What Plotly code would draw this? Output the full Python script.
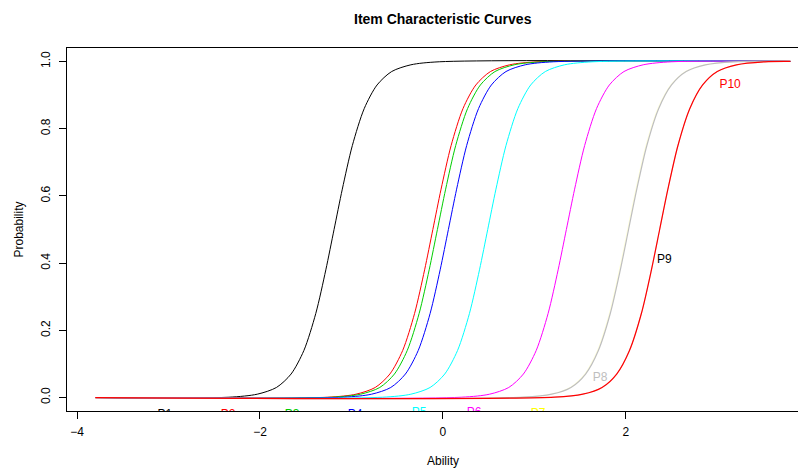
import plotly.graph_objects as go

prob_levels = [0.0, 0.001, 0.01, 0.03, 0.07, 0.14, 0.25, 0.38, 0.5,
               0.62, 0.75, 0.86, 0.93, 0.97, 0.99, 0.999, 1.0]

items = ["P1", "P2", "P3", "P4", "P5", "P6", "P7", "P8", "P9", "P10"]

# Ability values (x) where each item's curve reaches the probability levels above
ability_p1 = [-3.8, -2.34, -2.03, -1.82, -1.66, -1.52, -1.39, -1.28, -1.19, -1.10, -0.99, -0.86, -0.72, -0.56, -0.35, -0.04, 3.8]
ability_p2 = [-3.8, -1.26, -0.95, -0.74, -0.58, -0.44, -0.31, -0.20, -0.11, -0.02, 0.09, 0.22, 0.36, 0.52, 0.73, 1.04, 3.8]
ability_p3 = [-3.8, -1.21, -0.90, -0.69, -0.53, -0.39, -0.26, -0.15, -0.06, 0.03, 0.14, 0.27, 0.41, 0.57, 0.78, 1.09, 3.8]
ability_p4 = [-3.8, -1.09, -0.78, -0.57, -0.41, -0.27, -0.14, -0.03, 0.06, 0.15, 0.26, 0.39, 0.53, 0.69, 0.90, 1.21, 3.8]
ability_p5 = [-3.8, -0.66, -0.35, -0.14, 0.02, 0.16, 0.29, 0.40, 0.49, 0.58, 0.69, 0.82, 0.96, 1.12, 1.33, 1.64, 3.8]
ability_p6 = [-3.8, 0.20, 0.51, 0.72, 0.88, 1.02, 1.15, 1.26, 1.35, 1.44, 1.55, 1.68, 1.82, 1.98, 2.19, 2.50, 3.8]
ability_p7 = [-3.8, 0.87, 1.18, 1.39, 1.55, 1.69, 1.82, 1.93, 2.02, 2.11, 2.22, 2.35, 2.49, 2.65, 2.86, 3.17, 3.8]
ability_p8 = [-3.8, 0.88, 1.19, 1.40, 1.56, 1.70, 1.83, 1.94, 2.03, 2.12, 2.23, 2.36, 2.50, 2.66, 2.87, 3.18, 3.8]
ability_p9 = [-3.8, 1.22, 1.53, 1.74, 1.90, 2.04, 2.17, 2.28, 2.37, 2.46, 2.57, 2.70, 2.84, 3.00, 3.21, 3.52, 3.8]
ability_p10 = [-3.8, 1.22, 1.53, 1.74, 1.90, 2.04, 2.17, 2.28, 2.37, 2.46, 2.57, 2.70, 2.84, 3.00, 3.21, 3.52, 3.8]

abilities = [ability_p1, ability_p2, ability_p3, ability_p4, ability_p5,
             ability_p6, ability_p7, ability_p8, ability_p9, ability_p10]

# Label positions
label_x = [-3.04, -2.35, -1.65, -0.96, -0.26, 0.34, 1.04, 1.72, 2.42, 3.14]
label_y = [-0.053, -0.052, -0.051, -0.051, -0.045, -0.047, -0.05, 0.057, 0.408, 0.93]

x_ticks = [-4, -2, 0, 2]
y_ticks = [0.0, 0.2, 0.4, 0.6, 0.8, 1.0]
y_ticktext = ["0.0", "0.2", "0.4", "0.6", "0.8", "1.0"]

colors = ["#000000", "#FF0000", "#00CD00", "#0000FF", "#00FFFF",
          "#FF00FF", "#FFFF00", "#BEBEBE", "#000000", "#FF0000"]
# P7 and P9 lie exactly under P8 and P10 in the reference and are hidden
line_widths = [1, 1, 1, 1, 1, 1, 0.15, 1.2, 0.15, 1.2]

FONT = "Liberation Sans, Arial, sans-serif"

fig = go.Figure()
for name, xs, col, lw in zip(items, abilities, colors, line_widths):
    fig.add_trace(go.Scatter(x=xs, y=prob_levels, mode="lines", name=name,
                             line=dict(color=col, width=lw, shape="spline", smoothing=0.8),
                             showlegend=False, hoverinfo="skip"))

for name, lx, ly, col in zip(items, label_x, label_y, colors):
    fig.add_trace(go.Scatter(x=[lx], y=[ly], mode="text", text=[name],
                             textposition="middle center",
                             textfont=dict(family=FONT, size=12, color=col),
                             cliponaxis=True, showlegend=False, hoverinfo="skip"))

# The page body has an 8px margin, so the figure is offset by 8px
fig.update_layout(
    width=798, height=460,
    margin=dict(l=59, r=0, t=40, b=57),
    paper_bgcolor="white", plot_bgcolor="white",
    font=dict(family=FONT, size=12, color="#000000"),
    xaxis=dict(range=[-4.11, 3.97], tickvals=x_ticks, ticks="outside", ticklen=7,
               tickcolor="#000", showgrid=False, zeroline=False, showline=True,
               linecolor="#000", linewidth=1, mirror=True,
               tickfont=dict(family=FONT, size=12), ticklabelstandoff=3),
    yaxis=dict(range=[-0.04, 1.04], tickvals=y_ticks, ticktext=y_ticktext,
               ticks="outside", ticklen=7, tickcolor="#000", tickangle=-90,
               showgrid=False, zeroline=False, showline=True, linecolor="#000",
               linewidth=1, mirror=False, tickfont=dict(family=FONT, size=12),
               ticklabelstandoff=4),
    annotations=[
        dict(text="<b>Item Characteristic Curves</b>", xref="x", yref="paper",
             x=0, y=1, yshift=29, xanchor="center", yanchor="middle", showarrow=False,
             font=dict(family=FONT, size=14, color="#000")),
        dict(text="Ability", xref="x", yref="paper", x=0, y=0, yshift=-50,
             xanchor="center", yanchor="middle",
             showarrow=False, font=dict(family=FONT, size=12, color="#000")),
        dict(text="Probability", xref="paper", yref="paper", x=0, y=0.5,
             xshift=-49, textangle=-90, xanchor="center", yanchor="middle",
             showarrow=False, font=dict(family=FONT, size=12, color="#000")),
        dict(text="4", xref="paper", yref="paper", x=(808.6 - 67.3) / 739, y=0,
             yshift=-22, xanchor="center", yanchor="middle", showarrow=False,
             font=dict(family=FONT, size=12, color="#000")),
    ],
)

fig.write_html("out.html")
